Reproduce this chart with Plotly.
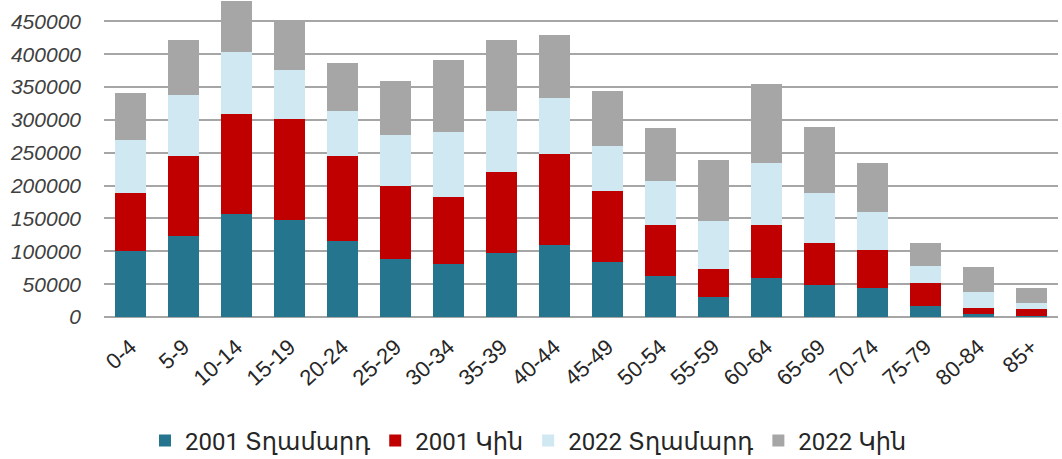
import plotly.graph_objects as go

categories = ["0-4", "5-9", "10-14", "15-19", "20-24", "25-29", "30-34", "35-39", "40-44",
              "45-49", "50-54", "55-59", "60-64", "65-69", "70-74", "75-79", "80-84", "85+"]

male_2001 = [100000, 124000, 156500, 148400, 115800, 89000, 81400, 97100, 110300,
             83800, 62500, 30500, 60000, 49400, 43700, 16800, 4100, 1500]
female_2001 = [88500, 121000, 152400, 152400, 129100, 110200, 101500, 123400, 137200,
               107300, 77200, 43300, 79700, 64000, 59000, 35000, 10200, 10200]
male_2022 = [80300, 93400, 94000, 75200, 69000, 77700, 99000, 93400, 85300,
             69500, 67100, 72000, 94100, 74700, 56400, 26500, 24400, 10200]
female_2022 = [71600, 82900, 85000, 72600, 72200, 82800, 109800, 107300, 96500,
               82900, 80300, 93000, 120400, 101500, 74700, 35100, 37000, 21800]

series_names = ["2001 Տղամարդ", "2001 Կին", "2022 Տղամարդ", "2022 Կին"]
series_values = [male_2001, female_2001, male_2022, female_2022]
colors = ["#26758E", "#C00000", "#D0E8F2", "#A6A6A6"]

y_ticks = list(range(0, 450001, 50000))

fig = go.Figure()
for name, vals, col in zip(series_names, series_values, colors):
    fig.add_trace(go.Bar(
        x=categories, y=vals, name=name,
        marker=dict(color=col, line=dict(width=0)),
    ))

fig.update_layout(
    barmode="stack",
    bargap=0.40,
    width=1062, height=459,
    margin=dict(l=104, r=4, t=1, b=142),
    plot_bgcolor="white", paper_bgcolor="white",
    font=dict(family="Liberation Sans, Arial, sans-serif", color="#404040"),
    legend=dict(
        orientation="h", xref="container", yref="container",
        x=145 / 1062, xanchor="left", y=1 - 441 / 459, yanchor="middle",
        font=dict(size=24, family="Roboto, Noto Sans, DejaVu Sans, sans-serif", color="#262626"),
        traceorder="normal", itemwidth=30,
    ),
    xaxis=dict(
        tickangle=-42, tickfont=dict(size=22, color="#262626"),
        showgrid=False, showline=False, ticks="", ticklabelstandoff=12,
        automargin=False,
    ),
    yaxis=dict(
        range=[0, 481000], tickvals=y_ticks, ticktext=[str(v) for v in y_ticks],
        tickfont=dict(size=21, family="Liberation Sans, Arial, sans-serif", style="italic", color="#404040"),
        showgrid=True, gridcolor="#A6A6A6", gridwidth=1.5,
        zeroline=True, zerolinecolor="#A6A6A6", zerolinewidth=1.5,
        ticks="", ticklabelstandoff=22, automargin=False,
    ),
)

fig.write_html(
    "out.html",
    config={"displayModeBar": False},
    post_script="document.body.style.margin='0';document.body.style.overflow='hidden';",
)
